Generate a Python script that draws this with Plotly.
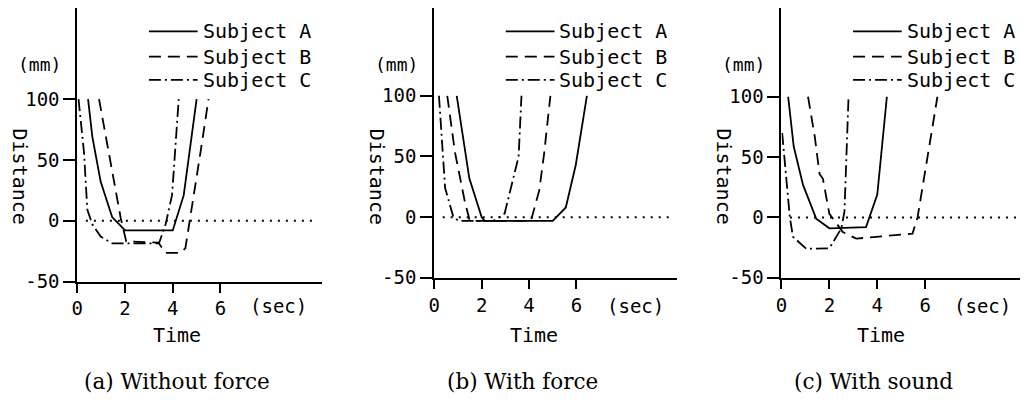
import plotly.graph_objects as go

# ---------------- data ----------------
# Panel (a) Without force
a_A_t = [0.45, 0.63, 0.98, 1.46, 2.0, 4.0, 4.46, 5.0]
a_A_d = [100, 69, 32, 3, -8, -8, 21, 100]
a_B_t = [0.91, 1.32, 1.67, 1.82, 2.05, 3.4, 3.7, 4.32, 4.53, 4.74, 5.16, 5.5]
a_B_d = [100, 56, 19, 2, -17, -18, -26.5, -26.5, -22.5, 3, 56, 100]
a_C_t = [0.05, 0.28, 0.42, 0.63, 0.98, 1.46, 3.42, 3.7, 3.97, 4.25]
a_C_d = [100, 56, 9, -3, -13, -18.7, -18.7, -3, 21, 100]

# Panel (b) With force
b_A_t = [0.95, 1.48, 2.0, 2.13, 5.0, 5.55, 5.97, 6.44]
b_A_d = [100, 32, 0, -3, -3, 8, 43, 100]
b_B_t = [0.55, 0.88, 1.3, 1.5, 4.08, 4.43, 4.64, 4.9]
b_B_d = [100, 53, 12, -3, -3, 22, 53, 100]
b_C_t = [0.2, 0.46, 0.81, 1.02, 2.5, 2.97, 3.56, 3.68]
b_C_d = [100, 24, 0, -3, -3, 3, 50, 100]

# Panel (c) With sound
c_A_t = [0.28, 0.51, 0.9, 1.45, 2.0, 3.53, 4.0, 4.4]
c_A_d = [100, 59, 27, -1, -9, -8, 19, 100]
c_B_t = [1.11, 1.39, 1.59, 1.73, 2.0, 2.56, 3.12, 5.47, 5.68, 6.09, 6.51]
c_B_d = [100, 67, 36, 32, 3, -12, -17.5, -13.4, 0, 51, 100]
c_C_t = [0.03, 0.35, 0.48, 1.04, 2.0, 2.5, 2.63, 2.8]
c_C_d = [70, 0, -16, -26, -25.5, -9, 5, 100]

subjects = ["Subject A", "Subject B", "Subject C"]
captions = ["(a) Without force", "(b) With force", "(c) With sound"]
x_ticks = [0, 2, 4, 6]
y_ticks = [-50, 0, 50, 100]
y_tick_text = ["-50", "0", "50", "100"]

panel_data = [
    [(a_A_t, a_A_d), (a_B_t, a_B_d), (a_C_t, a_C_d)],
    [(b_A_t, b_A_d), (b_B_t, b_B_d), (b_C_t, b_C_d)],
    [(c_A_t, c_A_d), (c_B_t, c_B_d), (c_C_t, c_C_d)],
]

# ---------------- layout constants (page pixels) ----------------
OFF = 8                      # default page body margin
W, H = 1028 - OFF, 413 - 2 * OFF
geo = [
    dict(ax=71.7, right=318, pps=24.0, ym50=289.3, y100=101.7, top=7),
    dict(ax=430.7, right=675, pps=23.85, ym50=285.5, y100=98.3, top=3.3),
    dict(ax=780, right=1025, pps=24.1, ym50=285.5, y100=99.3, top=5),
]
caption_x = [172, 520, 873]
dashes = ["solid", "12px,7px", "12px,4px,2px,4px"]
MONO = "DejaVu Sans Mono"
SERIF = "DejaVu Serif"


def fx(px):
    return min(1.0, max(0.0, (px - OFF) / W))


def fy(py):
    return min(1.0, max(0.0, 1 - (py - OFF) / H))


fig = go.Figure()
shapes = []
annotations = []

for i, g in enumerate(geo):
    sfx = "" if i == 0 else str(i + 1)
    xa, ya = "x" + sfx, "y" + sfx
    top = max(g["top"], OFF)
    ppu = (g["ym50"] - g["y100"]) / 150.0
    ytop = 100 + (g["y100"] - top) / ppu
    xmax = (g["right"] - g["ax"]) / g["pps"]

    for k, (t, d) in enumerate(panel_data[i]):
        fig.add_trace(go.Scatter(
            x=t, y=d, mode="lines", name=subjects[k], showlegend=False,
            line=dict(color="black", width=1.8, dash=dashes[k]),
            xaxis=xa, yaxis=ya, hoverinfo="skip"))

    axis_common = dict(showline=True, linecolor="black", linewidth=2,
                       showgrid=False, zeroline=False, ticks="outside",
                       tickcolor="black", tickwidth=1.6,
                       tickfont=dict(family=MONO, size=19, color="black"))
    fig.layout["xaxis" + sfx] = dict(
        domain=[fx(g["ax"]), fx(g["right"])], range=[0, xmax], anchor=ya,
        tickvals=x_ticks, ticktext=[str(v) for v in x_ticks], ticklen=9,
        **axis_common)
    fig.layout["yaxis" + sfx] = dict(
        domain=[fy(g["ym50"]), fy(top)], range=[-50, ytop], anchor=xa,
        tickvals=y_ticks, ticktext=y_tick_text, ticklen=12,
        **axis_common)

    # dotted zero reference
    shapes.append(dict(type="line", xref=xa + " domain", yref=ya,
                       x0=0.035, x1=0.975, y0=0, y1=0,
                       line=dict(color="black", width=2, dash="2px,6px")))

    # in-plot legend
    leg_y = [32, 58, 82]
    for k in range(3):
        shapes.append(dict(type="line", xref="paper", yref="paper",
                           x0=fx(g["ax"] + 72), x1=fx(g["ax"] + 121),
                           y0=fy(leg_y[k]), y1=fy(leg_y[k]),
                           line=dict(color="black", width=1.8, dash=dashes[k])))
        annotations.append(dict(text=subjects[k], xref="paper", yref="paper",
                                x=fx(g["ax"] + 124), y=fy(leg_y[k]),
                                xanchor="left", yanchor="middle", showarrow=False,
                                font=dict(family=MONO, size=20, color="black")))

    annotations += [
        dict(text="(mm)", xref="paper", yref="paper", x=fx(g["ax"] - 38), y=fy(66),
             xanchor="center", yanchor="middle", showarrow=False,
             font=dict(family=MONO, size=18, color="black")),
        dict(text="Distance", xref="paper", yref="paper", x=fx(g["ax"] - 58), y=fy(181),
             xanchor="center", yanchor="middle", showarrow=False, textangle=90,
             font=dict(family=MONO, size=20, color="black")),
        dict(text="(sec)", xref="paper", yref="paper", x=fx(g["ax"] + 202), y=fy(315),
             xanchor="center", yanchor="middle", showarrow=False,
             font=dict(family=MONO, size=19, color="black")),
        dict(text="Time", xref="paper", yref="paper", x=fx(g["ax"] + 100), y=fy(344),
             xanchor="center", yanchor="middle", showarrow=False,
             font=dict(family=MONO, size=20, color="black")),
        dict(text=captions[i], xref="paper", yref="paper", x=fx(caption_x[i]), y=fy(392),
             xanchor="center", yanchor="middle", showarrow=False,
             font=dict(family=SERIF, size=21.5, color="black")),
    ]

fig.update_layout(width=W, height=H, margin=dict(l=0, r=0, t=0, b=0),
                  paper_bgcolor="white", plot_bgcolor="white",
                  shapes=shapes, annotations=annotations, showlegend=False)

fig.write_html("out.html")
